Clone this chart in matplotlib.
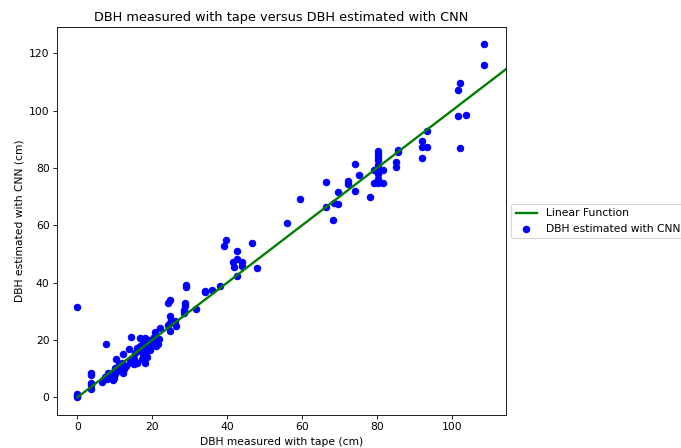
import numpy as np
import matplotlib
matplotlib.use('Agg')
import matplotlib.pyplot as plt

# DBH measured with tape (cm)
tape = [0, 0, 0, 0,
        3.7, 3.7, 3.7, 3.7, 3.7,
        6.5, 7, 7.3, 7.6, 8, 8.3, 8, 9, 9.7, 10.1, 10.6, 9.5, 10,
        10.3, 11, 11.5, 11.9, 12.3, 12.3, 13.7, 13, 12.5, 14.1, 14.6, 15, 14.4,
        15.5, 15.9, 15, 16, 16.8, 16.8, 17, 17.2, 17.5, 17.6, 18.1, 18.2, 18.5, 18.7, 19, 19.3, 19.5, 18,
        20.8, 20.8, 21.7, 21, 21.6, 22.1, 20.5,
        24.1, 24.6, 24.6, 24.3, 24.6, 24.8, 26.4, 28.4, 28.8, 28.8, 29, 29, 31.6, 25, 26.1, 28.5,
        34.1, 34.1, 35.9, 38.1, 39.7, 39.2, 46.6, 42.7, 42.7, 41.6, 44, 41.7, 43.9, 47.9, 42.7,
        56, 59.5, 66.4, 66.4, 68.4, 69.5, 68.2, 69.5,
        72.3, 72.3, 74, 74, 75.3, 78.1, 79.3, 79.3, 80.4, 80.4, 80.4, 80.4, 80.4, 80.4, 80.4, 80.4, 81.6, 81.6, 80.4,
        85.5, 85.5, 85.1, 85.1, 93.3, 91.9, 91.9, 93.3, 91.9,
        102.3, 101.7, 101.7, 103.7, 102.3, 108.6, 108.6]

# DBH estimated with CNN (cm)
cnn = [0, 0.5, 1.2, 31.5,
       3.0, 4.2, 5.1, 7.7, 8.6,
       5.5, 6.3, 7, 18.5, 6.5, 8.6, 7.5, 8, 6.9, 8, 9.2, 6.2, 10.2,
       13.2, 11.5, 10.3, 12.1, 8.6, 15, 16.7, 11, 10, 12.6, 12.1, 13.2, 21.1,
       15.6, 17.3, 11.7, 12, 18, 20.8, 16, 13.5, 15, 19, 20.8, 17.5, 14.2, 16, 20, 18.5, 16.5, 12,
       19.1, 22.8, 20.2, 17.8, 18.5, 24.3, 21,
       25.1, 26, 23.1, 33, 33.9, 28.3, 24.8, 29.5, 31.8, 33, 38.5, 39.1, 30.7, 27, 26.6, 30.3,
       36.7, 37, 37.6, 38.8, 54.7, 52.7, 53.7, 51, 48.1, 47.1, 47.1, 45.4, 45.7, 45.2, 42.3,
       60.7, 69.2, 75.2, 66.3, 67.8, 67.5, 61.8, 71.5,
       75.3, 74.5, 81.5, 71.9, 77.4, 69.8, 79.4, 74.6, 74.6, 76, 79.4, 81.2, 82.7, 83.9, 84.9, 85.8, 79.4, 74.6, 78,
       86.4, 85.6, 82.1, 80.4, 93, 89.4, 87.2, 87.2, 83.5,
       109.6, 107.1, 98.2, 98.4, 86.8, 123.3, 115.9]

# x range of the linear function y = x
line_x = [0, 120]

# picture is a scaled-down screenshot, so draw at a lower dpi
DPI = 77
fig = plt.figure(figsize=(681 / DPI, 448 / DPI), dpi=DPI)
ax = fig.add_axes([0.0837, 0.0737, 0.6593, 0.866])

ax.plot(line_x, line_x, color='green', linewidth=2.2, label='Linear Function')
ax.scatter(tape, cnn, color='blue', s=36, label='DBH estimated with CNN')

ax.set_xlim(-5.45, 114.45)
ax.set_ylim(-6.15, 129.15)
ax.set_title('DBH measured with tape versus DBH estimated with CNN')
ax.set_xlabel('DBH measured with tape (cm)')
ax.set_ylabel('DBH estimated with CNN (cm)')
ax.legend(loc='center left', bbox_to_anchor=(1, 0.5))

fig.savefig('out.png', dpi=DPI)
